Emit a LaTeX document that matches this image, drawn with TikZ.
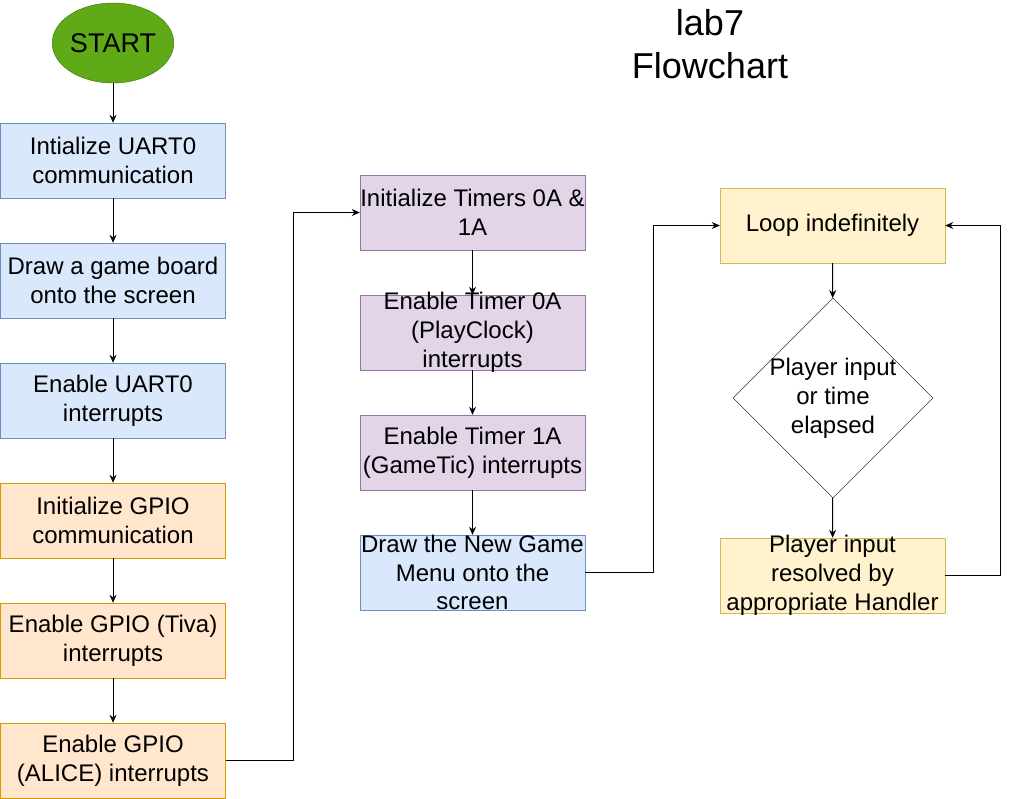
\documentclass[tikz,border=0pt]{standalone}
\usepackage{fontspec}
\setmainfont{Liberation Sans}
\usetikzlibrary{shapes.geometric,arrows.meta}

\definecolor{blueFill}{HTML}{DAE8FC}
\definecolor{blueLine}{HTML}{6C8EBF}
\definecolor{orangeFill}{HTML}{FFE6CC}
\definecolor{orangeLine}{HTML}{D79B00}
\definecolor{purpleFill}{HTML}{E1D5E7}
\definecolor{purpleLine}{HTML}{9673A6}
\definecolor{yellowFill}{HTML}{FFF2CC}
\definecolor{yellowLine}{HTML}{D6B656}
\definecolor{greenFill}{HTML}{60A917}
\definecolor{greenLine}{HTML}{2D7600}

\begin{document}
\begin{tikzpicture}[x=1pt,y=-1pt,
    every node/.style={font=\fontsize{24}{28.8}\selectfont},
    box/.style={draw=#1Line,fill=#1Fill,minimum width=225pt,minimum height=75pt,inner sep=0pt,align=center},
    link/.style={-{Stealth[length=8pt,width=7pt]},line width=1pt}]
    \useasboundingbox (0,0) rectangle (1009,799);

    \node [font=\fontsize{36}{43.2}\selectfont,align=center] (title) at (710,44) {lab7\\Flowchart};
    \node [ellipse,draw=greenLine,fill=greenFill,minimum width=120pt,minimum height=80pt,inner sep=0pt,
           font=\fontsize{27}{32}\selectfont] (start) at (113,43) {START};

    % left column
    \node [box=blue]   (b1) at (113,160.5) {Intialize UART0\\communication};
    \node [box=blue]   (b2) at (113,280.5) {Draw a game board\\onto the screen};
    \node [box=blue]   (b3) at (113,400.5) {Enable UART0\\interrupts};
    \node [box=orange] (b4) at (113,520.5) {Initialize GPIO\\communication};
    \node [box=orange] (b5) at (113,640.5) {Enable GPIO (Tiva)\\interrupts};
    \node [box=orange] (b6) at (113,760.5) {Enable GPIO\\(ALICE) interrupts};

    % middle column
    \node [box=purple] (tA) at (472.5,212.5) {Initialize Timers 0A \&\\1A};
    \node [box=purple,label={[align=center]center:{Enable Timer 0A\\(PlayClock)\\interrupts}}] (tB) at (472.5,332.5) {};
    \node [box=purple] (tC) at (472.5,452.5) {Enable Timer 1A\\(GameTic) interrupts};
    \node [box=blue,label={[align=center]center:{Draw the New Game\\Menu onto the\\screen}}] (tD) at (472.5,572.5) {};

    % right column
    \node [box=yellow] (loop) at (832.5,225.5) {Loop indefinitely};
    \node [diamond,draw=black,fill=white,minimum width=200pt,minimum height=200pt,inner sep=0pt,
           label={[align=center]center:{Player input\\or time\\elapsed}}] (choice) at (833,398) {};
    \node [box=yellow,label={[align=center]center:{Player input\\resolved by\\appropriate Handler}}] (handler) at (832.5,575.5) {};

    \foreach \a/\b in {start/b1,b1/b2,b2/b3,b3/b4,b4/b5,b5/b6,tA/tB,tB/tC,tC/tD,loop/choice,choice/handler}{
        \draw [link] (\a) -- (\b);
    }
    \draw [link] (b6.east) -- ++(68,0) |- (tA.west);
    \draw [link] (tD.east) -- ++(68,0) |- (loop.west);
    \draw [link] (handler.east) -- ++(55,0) |- (loop.east);
\end{tikzpicture}
\end{document}
